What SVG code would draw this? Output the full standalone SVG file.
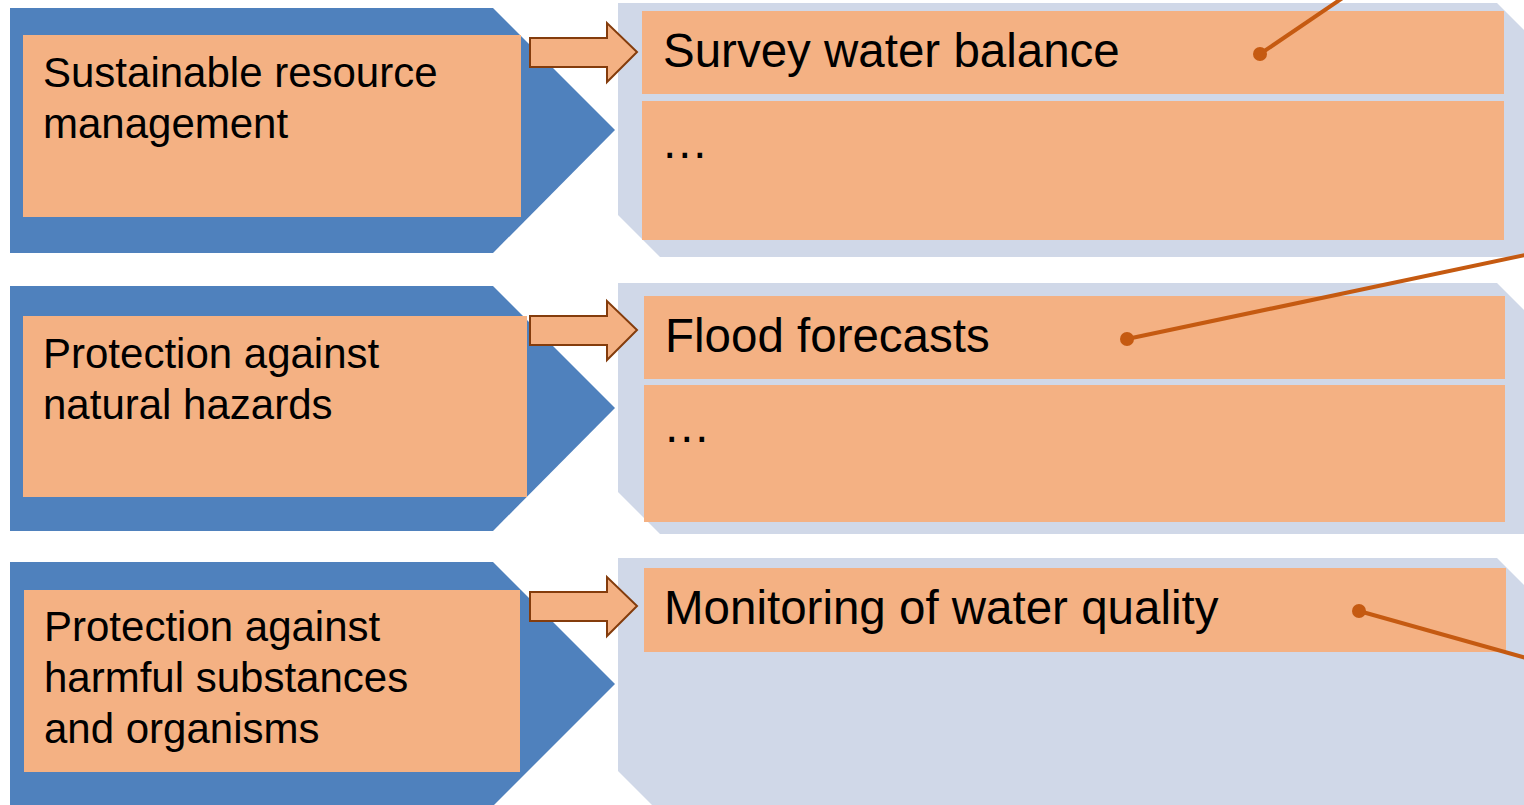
<svg xmlns="http://www.w3.org/2000/svg" width="1524" height="805" viewBox="0 0 1524 805">
<style>
.chev{fill:#4F81BD}
.panel{fill:#D0D8E8}
.box{fill:#F4B183}
.arrow{fill:#F4B183;stroke:#843C0C;stroke-width:2;stroke-linejoin:miter}
.lt{font-family:"Liberation Sans",Arial,sans-serif;font-size:42px;fill:#000}
.rt{font-family:"Liberation Sans",Arial,sans-serif;font-size:47.5px;fill:#000}
.conn{stroke:#C55A11;stroke-width:4;fill:none}
.dot{fill:#C55A11}
</style>
<rect width="1524" height="805" fill="#FFFFFF"/>
<g id="row1">
  <polygon class="chev" points="10,8 493,8 615,130 493,253 10,253"/>
  <polygon class="panel" points="618,3 1497,3 1540,46 1540,257 660,257 618,215"/>
  <rect class="box" x="23" y="35" width="498" height="182"/>
  <text class="lt" x="43" y="87">Sustainable resource</text>
  <text class="lt" x="43" y="138">management</text>
  <polygon class="arrow" points="530,38 607,38 607,23 637,52 607,82 607,67 530,67"/>
  <g id="item1a">
    <rect class="box" x="642" y="11" width="862" height="83"/>
    <text class="rt" x="663" y="67">Survey water balance</text>
  </g>
  <g id="item1b">
    <rect class="box" x="642" y="101" width="862" height="139"/>
    <text class="rt" x="661" y="158">…</text>
  </g>
</g>
<g id="row2">
  <polygon class="chev" points="10,286 493,286 615,408 493,531 10,531"/>
  <polygon class="panel" points="618,283 1497,283 1540,326 1540,534 660,534 618,492"/>
  <rect class="box" x="23" y="316" width="504" height="181"/>
  <text class="lt" x="43" y="368">Protection against</text>
  <text class="lt" x="43" y="419">natural hazards</text>
  <polygon class="arrow" points="530,316 607,316 607,301 637,330 607,360 607,345 530,345"/>
  <g id="item2a">
    <rect class="box" x="644" y="296" width="861" height="83"/>
    <text class="rt" x="665" y="352">Flood forecasts</text>
  </g>
  <g id="item2b">
    <rect class="box" x="644" y="385" width="861" height="137"/>
    <text class="rt" x="663" y="442">…</text>
  </g>
</g>
<g id="row3">
  <polygon class="chev" points="10,562 493,562 615,684 493,806 10,806"/>
  <polygon class="panel" points="618,558 1497,558 1540,601 1540,815 662,815 618,771"/>
  <rect class="box" x="24" y="590" width="496" height="182"/>
  <text class="lt" x="44" y="641">Protection against</text>
  <text class="lt" x="44" y="692">harmful substances</text>
  <text class="lt" x="44" y="743">and organisms</text>
  <polygon class="arrow" points="530,592 607,592 607,577 637,606 607,636 607,621 530,621"/>
  <g id="item3a">
    <rect class="box" x="644" y="568" width="862" height="84"/>
    <text class="rt" x="664" y="624">Monitoring of water quality</text>
  </g>
</g>
<g id="connectors">
  <line class="conn" x1="1260" y1="54" x2="1344" y2="-3"/>
  <circle class="dot" cx="1260" cy="54" r="7"/>
  <line class="conn" x1="1127" y1="339" x2="1530" y2="254"/>
  <circle class="dot" cx="1127" cy="339" r="7"/>
  <line class="conn" x1="1359" y1="611" x2="1530" y2="659"/>
  <circle class="dot" cx="1359" cy="611" r="7"/>
</g>
</svg>
